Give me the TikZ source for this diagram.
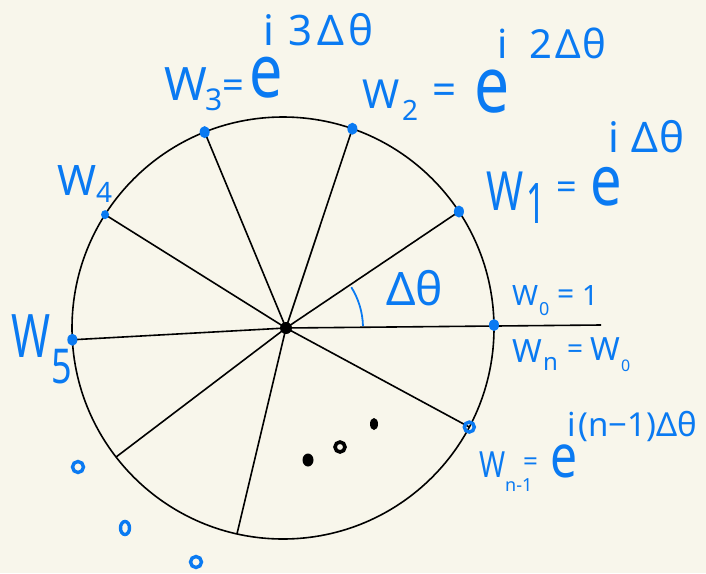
\documentclass[tikz,border=0pt]{standalone}
\usepackage{fontspec}
\setmainfont{Noto Sans}
\usetikzlibrary{calc,shapes.geometric}
\definecolor{wblue}{RGB}{10,122,242}
\definecolor{paper}{RGB}{248,246,235}
\newcommand\xs[2]{\scalebox{#1}[1]{#2}}
\begin{document}
\begin{tikzpicture}[x=1pt,y=-1pt,
  ln/.style={line width=1.6pt, black},
  bdot/.style={ellipse, fill=wblue, inner sep=0, minimum width=10pt, minimum height=12pt},
  ring/.style={circle, draw=wblue, line width=3.4pt, inner sep=0, minimum size=9pt},
  kdot/.style={circle, fill=black, inner sep=0, minimum size=10pt},
  kring/.style={circle, draw=black, line width=3.6pt, inner sep=0, minimum size=9pt},
  wt/.style={text=wblue, inner sep=0, anchor=base west, font=\fontsize{#1}{#1}\selectfont},
]
\fill[paper] (0,0) rectangle (706,573);
\useasboundingbox (0,0) rectangle (706,573);

\coordinate (o) at (283,328);
\coordinate (hub) at (286,328);
\coordinate (p0) at ($(o)+(-0.8:211)$);
\coordinate (p1) at ($(o)+(-33.5:211)$);
\coordinate (p2) at ($(o)+(-70.8:211)$);
\coordinate (p3) at ($(o)+(-111.8:211)$);
\coordinate (p4) at ($(o)+(-147.5:211)$);
\coordinate (p5) at ($(o)+(-183.2:211)$);
\coordinate (p6) at ($(o)+(-217.7:211)$);
\coordinate (p7) at ($(o)+(-257.4:211)$);
\coordinate (p9) at ($(o)+(-332:211)$);
\coordinate (xend) at (601,325);

% circle and spokes
\draw[ln] (o) circle[radius=211];
\foreach \p in {p1,p2,p3,p4,p5,p6,p7,p9} \draw[ln] (hub) -- (\p);
\draw[ln] (hub) -- (xend);

% angle arc
\draw[wblue, line width=1.8pt] (hub) ++(-1.5:77) arc[start angle=-1.5, end angle=-32, radius=77];
\node[wt=46] (dth) at (386,305) {Δθ};

% points on the circle
\node[kdot, minimum size=12pt] (c) at (hub) {};
\node[bdot] (d0) at (p0) {};
\node[bdot] (d1) at (p1) {};
\node[bdot] (d2) at (p2) {};
\node[bdot] (d3) at (p3) {};
\node[bdot, minimum width=8pt, minimum height=9pt] (d4) at (p4) {};
\node[bdot] (d5) at (p5) {};
\node[ring, minimum size=10pt] (d9) at (p9) {};

% dots
\node[kdot, ellipse, minimum width=11pt, minimum height=13pt] (k1) at (308,460) {};
\node[kring, minimum size=10pt] (k2) at (340,447) {};
\node[kdot, ellipse, minimum width=8pt, minimum height=12pt] (k3) at (374,424) {};
\node[ring, minimum size=11pt] (b1) at (78,467) {};
\node[ring, ellipse, minimum width=9pt, minimum height=13pt] (b2) at (125,528) {};
\node[ring, minimum size=11pt] (b3) at (196,562) {};

% W3 = e^{i3Δθ}
\node[wt=46] (w3) at (164,100) {W};
\node[wt=30] (w3s) at (205,110) {3};
\node[wt=38] (w3q) at (222,98) {=};
\node[wt=74] (w3e) at (249,97) {\xs{0.8}{e}};
\node[wt=42] (w3x) at (263,45) {i\hspace{14pt}3\hspace{5pt}Δ\hspace{5pt}θ};

% W2 = e^{i2Δθ}
\node[wt=40] (w2) at (362,108) {W};
\node[wt=28] (w2s) at (402,120) {2};
\node[wt=42] (w2q) at (432,104) {=};
\node[wt=78] (w2e) at (474,112) {\xs{0.8}{e}};
\node[wt=40] (w2x) at (497,58) {i\hspace{22pt}2\hspace{3pt}Δ\hspace{2pt}θ};

% W1 = e^{iΔθ}
\node[wt=54] (w1) at (486,210) {\xs{0.74}{W}};
\node[wt=56] (w1s) at (526,223) {\xs{0.6}{1}};
\node[wt=36] (w1q) at (556,199) {=};
\node[wt=70] (w1e) at (590,205) {\xs{0.8}{e}};
\node[wt=42] (w1x) at (608,152) {i\hspace{12pt}Δ\hspace{2pt}θ};

% W4, W5
\node[wt=42] (w4) at (57,195) {W};
\node[wt=28] (w4s) at (96,202) {4};
\node[wt=60] (w5) at (11,357) {\xs{0.7}{W}};
\node[wt=48] (w5s) at (51,383) {\xs{0.75}{5}};

% W0 = 1 and Wn = W0
\node[wt=28] (w0) at (512,305) {W};
\node[wt=18] (w0s) at (539,315) {0};
\node[wt=30] (w0q) at (557,304) {=};
\node[wt=28] (w0v) at (582,305) {1};
\node[wt=32] (wn) at (512,362) {W};
\node[wt=24] (wns) at (543,370) {n};
\node[wt=28] (wnq) at (567,358) {=};
\node[wt=32] (wnv) at (590,360) {W};
\node[wt=16] (wnvs) at (621,371) {0};

% W_{n-1} = e^{i(n-1)Δθ}
\node[wt=36] (w9) at (479,477) {\xs{0.78}{W}};
\node[wt=18] (w9s) at (505,491) {n-1};
\node[wt=26] (w9q) at (523,470) {=};
\node[wt=60] (w9e) at (550,477) {\xs{0.8}{e}};
\node[wt=33] (w9x) at (567,436) {i\hspace{3pt}(n−1)Δθ};
\end{tikzpicture}
\end{document}
